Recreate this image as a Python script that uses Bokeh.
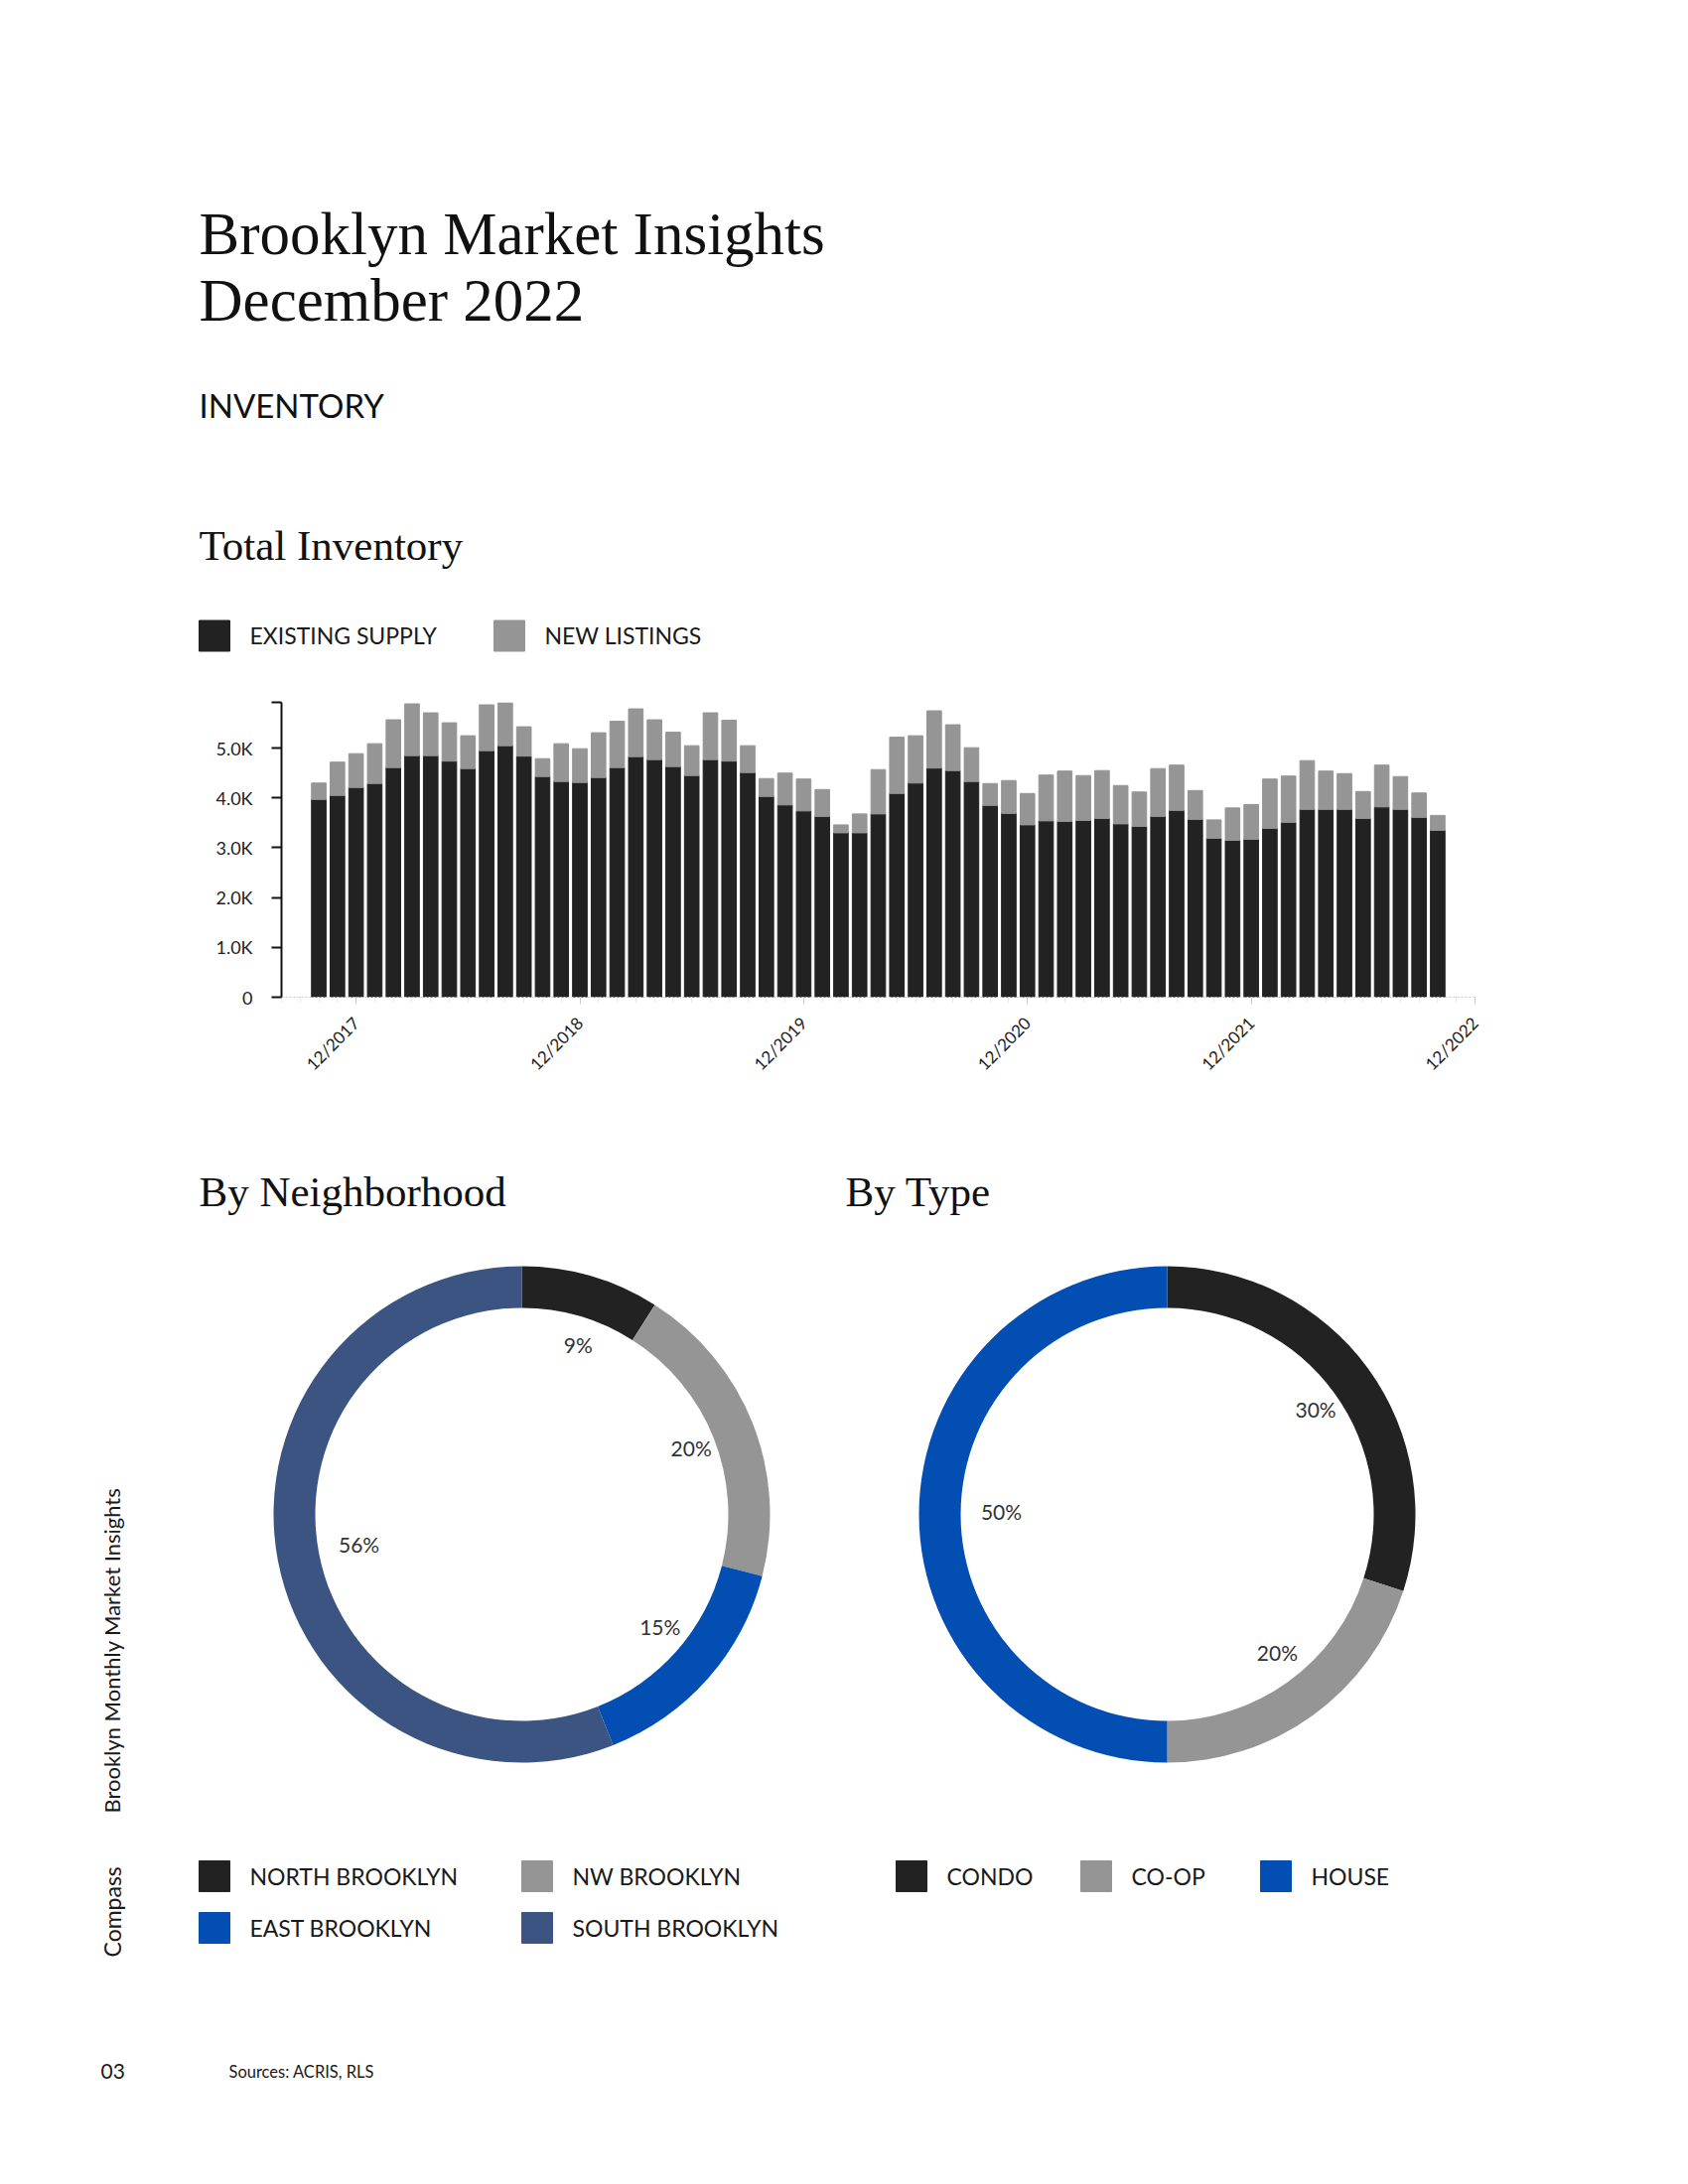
import math
from bokeh.plotting import figure
from bokeh.layouts import column
from bokeh.models import Range1d, FixedTicker, ColumnDataSource
from bokeh.core.properties import value
from bokeh.embed import file_html
from bokeh.resources import INLINE

# ---------------- data ----------------
existing_supply = [3970, 4050, 4210, 4290, 4610, 4850, 4850, 4740, 4590, 4950,
                   5050, 4840, 4430, 4330, 4310, 4410, 4610, 4830, 4770, 4630,
                   4450, 4770, 4740, 4510, 4030, 3860, 3740, 3630, 3300, 3300,
                   3680, 4090, 4300, 4600, 4550, 4330, 3850, 3690, 3460, 3540,
                   3530, 3550, 3590, 3480, 3430, 3630, 3750, 3570, 3190, 3150,
                   3170, 3390, 3510, 3770, 3770, 3770, 3590, 3820, 3770, 3610,
                   3350]
new_listings = [330, 670, 680, 800, 960, 1040, 860, 770, 660, 920,
                860, 590, 360, 760, 680, 900, 930, 960, 800, 690,
                600, 940, 820, 540, 360, 640, 640, 540, 160, 380,
                890, 1130, 950, 1150, 920, 680, 440, 660, 630, 920,
                1010, 900, 960, 770, 690, 960, 910, 580, 370, 650,
                700, 990, 930, 980, 770, 720, 540, 840, 660, 490,
                300]
x_tick_positions = [2, 14, 26, 38, 50, 62]
x_tick_labels = ["12/2017", "12/2018", "12/2019", "12/2020", "12/2021", "12/2022"]
y_tick_values = [0, 1000, 2000, 3000, 4000, 5000]
y_tick_labels = ["0", "1.0K", "2.0K", "3.0K", "4.0K", "5.0K"]
y_max = 5920

neighborhoods = ["NORTH BROOKLYN", "NW BROOKLYN", "EAST BROOKLYN", "SOUTH BROOKLYN"]
neighborhood_pct = [9, 20, 15, 56]
types = ["CONDO", "CO-OP", "HOUSE"]
type_pct = [30, 20, 50]

# ---------------- styles ----------------
BLACK = "#222222"
GRAY = "#959595"
BLUE = "#034EB3"
SLATE = "#3C5482"
INK = "#1a1a1a"
SERIF = "Liberation Serif"
SANS = "Lato"
W = 1684
FRAME_L, FRAME_R = 283, 1485          # x of the bar chart frame
BORDER_L, BORDER_R = FRAME_L, W - FRAME_R
H_A, H_B = 690, 420
H_TOTAL = 2184


def canvas(top, bottom):
    # frame is aligned with the bar chart frame; data coords == pixels
    p = figure(width=W, height=bottom - top, x_range=Range1d(FRAME_L, FRAME_R),
               y_range=Range1d(-bottom, -top), output_backend="svg",
               toolbar_location=None, tools="", x_axis_location=None,
               y_axis_location=None, min_border_left=BORDER_L,
               min_border_right=BORDER_R, min_border_top=0, min_border_bottom=0,
               outline_line_color=None,
               background_fill_color="white", border_fill_color="white")
    p.grid.visible = False
    return p


def txt(p, x, y, s, size, font=SANS, color=INK, align="left", baseline="middle", angle=0):
    p.text(x=[x], y=[-y], text=[s], text_font=value(font), text_font_size=size,
           text_color=color, text_align=align, text_baseline=baseline, angle=angle,
           level="overlay")


# ---------------- header ----------------
A = canvas(0, H_A)
txt(A, 200, 235, "Brooklyn Market Insights", "61px", SERIF, "#111111", baseline="alphabetic")
txt(A, 200, 302, "December 2022", "61px", SERIF, "#111111", baseline="alphabetic")
txt(A, 200, 407, "INVENTORY", "33px", SANS, "#111111", baseline="alphabetic")
txt(A, 200, 549, "Total Inventory", "43px", SERIF, "#111111", baseline="alphabetic")
A.rect(x=[215.5, 512.5], y=[-640, -640], width=31, height=31, color=[BLACK, GRAY],
       level="overlay")
txt(A, 251, 639, "EXISTING SUPPLY", "23px")
txt(A, 548, 639, "NEW LISTINGS", "23px")

# ---------------- bar chart ----------------
B = figure(width=W, height=H_B, x_range=Range1d(-2, 62), y_range=Range1d(0, y_max),
           output_backend="svg", toolbar_location=None, tools="",
           min_border_left=BORDER_L, min_border_right=BORDER_R, min_border_top=17,
           min_border_bottom=106, outline_line_color=None)
months = list(range(len(existing_supply)))
totals = [a + b for a, b in zip(existing_supply, new_listings)]
src = ColumnDataSource(dict(x=months, existing=existing_supply, new=new_listings, total=totals))
B.vbar(x="x", bottom=0, top="existing", width=0.78, color=BLACK, source=src)
B.vbar(x="x", bottom="existing", top="total", width=0.78, color=GRAY, source=src)
B.grid.visible = False

xa = B.xaxis[0]
xa.ticker = FixedTicker(ticks=x_tick_positions, minor_ticks=list(range(-2, 63)))
xa.major_label_overrides = {t: l for t, l in zip(x_tick_positions, x_tick_labels)}
xa.major_label_orientation = math.pi / 4
xa.axis_line_color = "#c8c8c8"
xa.axis_line_dash = "2 2"
xa.major_tick_line_color = "#c8c8c8"
xa.major_tick_out = 7
xa.major_tick_in = 0
xa.minor_tick_line_color = "#d0d0d0"
xa.minor_tick_line_dash = "1 1"
xa.minor_tick_out = 5
xa.minor_tick_in = 0
xa.major_label_text_font = SANS
xa.major_label_text_font_size = "17px"
xa.major_label_text_color = BLACK
xa.major_label_standoff = 16

ya = B.yaxis[0]
ya.ticker = FixedTicker(ticks=y_tick_values + [y_max])
ov = {t: l for t, l in zip(y_tick_values, y_tick_labels)}
ov[y_max] = ""
ya.major_label_overrides = ov
ya.axis_line_color = "#111111"
ya.axis_line_width = 2
ya.major_tick_line_color = "#111111"
ya.major_tick_line_width = 2
ya.major_tick_out = 10
ya.major_tick_in = 0
ya.minor_tick_line_color = None
ya.major_label_text_font = SANS
ya.major_label_text_font_size = "18px"
ya.major_label_text_color = BLACK
ya.major_label_standoff = 19

# ---------------- donuts ----------------
C = canvas(H_A + H_B, H_TOTAL)
txt(C, 200, 1200, "By Neighborhood", "43px", SERIF, "#111111", baseline="alphabetic")
txt(C, 851, 1200, "By Type", "43px", SERIF, "#111111", baseline="alphabetic")

R_OUT, R_IN, R_LAB = 250, 208, 175
LAB_DX, LAB_DY = 8, 3   # small nudge of the percentage labels (pixels)


def donut(p, cx, cy, pcts, colors):
    total = float(sum(pcts))
    cum = 0.0
    starts, ends, lx, ly, labels = [], [], [], [], []
    for v in pcts:
        t1 = cum / total * 2 * math.pi
        cum += v
        t2 = cum / total * 2 * math.pi
        starts.append(math.pi / 2 - t2)
        ends.append(math.pi / 2 - t1)
        tm = (t1 + t2) / 2
        lx.append(cx + R_LAB * math.sin(tm) + LAB_DX)
        ly.append(-cy + R_LAB * math.cos(tm) + LAB_DY)
        labels.append(f"{v}%")
    p.annular_wedge(x=cx, y=-cy, inner_radius=R_IN, outer_radius=R_OUT,
                    start_angle=starts, end_angle=ends, color=colors, line_color=None,
                    level="overlay")
    p.text(x=lx, y=ly, text=labels, text_font=value(SANS), text_font_size="21px",
           text_color="#333333", text_align="center", text_baseline="middle",
           level="overlay")


donut(C, 525, 1525, neighborhood_pct, [BLACK, GRAY, BLUE, SLATE])
donut(C, 1175, 1525, type_pct, [BLACK, GRAY, BLUE])

# legends
n_pos = [(200, 1874), (525, 1874), (200, 1926), (525, 1926)]
n_cols = [BLACK, GRAY, BLUE, SLATE]
C.rect(x=[x + 15.5 for x, y in n_pos], y=[-(y + 15.5) for x, y in n_pos],
       width=31, height=31, color=n_cols, level="overlay")
for (x, y), name in zip(n_pos, neighborhoods):
    txt(C, x + 51, y + 15.5, name, "23px")

t_pos = [(902, 1874), (1088, 1874), (1269, 1874)]
t_cols = [BLACK, GRAY, BLUE]
C.rect(x=[x + 15.5 for x, y in t_pos], y=[-(y + 15.5) for x, y in t_pos],
       width=31, height=31, color=t_cols, level="overlay")
for (x, y), name in zip(t_pos, types):
    txt(C, x + 51, y + 15.5, name, "23px")

# side + footer
txt(C, 112, 1826, "Brooklyn Monthly Market Insights", "22px", angle=math.pi / 2)
txt(C, 112, 1971, "Compass", "23px", angle=math.pi / 2)
txt(C, 101, 2086, "03", "21px")
txt(C, 230, 2086, "Sources: ACRIS, RLS", "16.5px")

layout = column(A, B, C, spacing=0)
open("out.html", "w").write(file_html(layout, INLINE))
